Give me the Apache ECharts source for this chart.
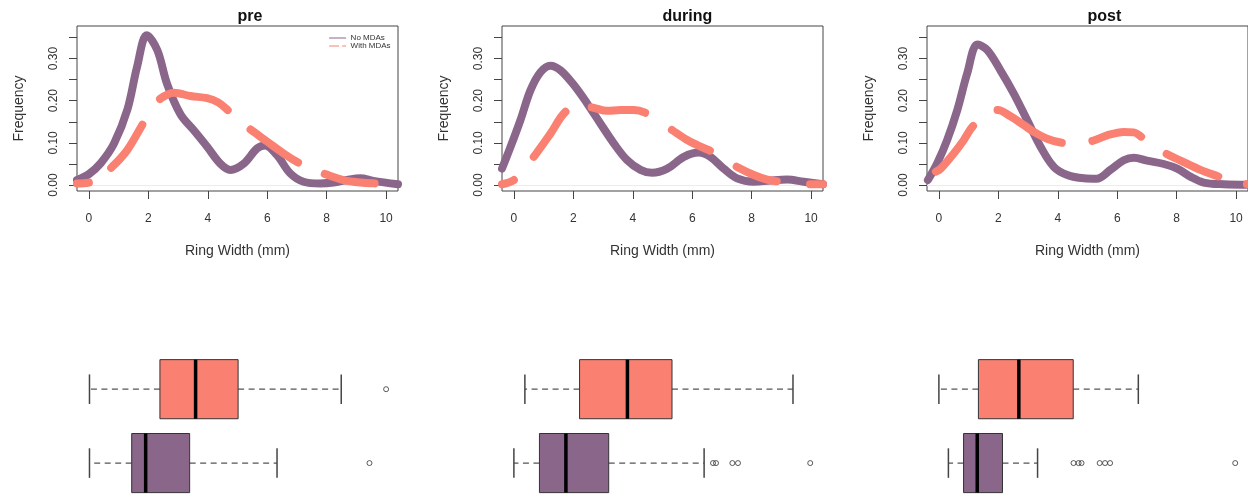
<!DOCTYPE html>
<html>
<head>
<meta charset="utf-8">
<script src="https://cdn.jsdelivr.net/npm/echarts@6/dist/echarts.min.js"></script>
<style>html,body{margin:0;padding:0;background:#fff}#c{width:1248px;height:500px}</style>
</head>
<body>
<div id="c"></div>
<script>
// ---- data ----
const periods = ['pre', 'during', 'post'];
const groups = ['No MDAs', 'With MDAs'];
const xTicks = [0, 2, 4, 6, 8, 10];
const yTicks = [0, 0.05, 0.1, 0.15, 0.2, 0.25, 0.3, 0.35];
const yLabels = [0, 0.1, 0.2, 0.3];

// density curves [ring width, frequency]
const preNo = [[-0.4,0.012],[0,0.026],[0.4,0.052],[0.85,0.099],[1.3,0.18],[1.62,0.28],[1.95,0.355],[2.3,0.32],[2.63,0.24],[3.08,0.168],[3.53,0.13],[3.98,0.091],[4.42,0.051],[4.76,0.036],[5.21,0.051],[5.66,0.087],[5.93,0.094],[6.33,0.071],[6.77,0.028],[7.22,0.008],[7.78,0.004],[8.23,0.006],[8.68,0.012],[9.13,0.016],[9.57,0.01],[10.4,0.002]];
const preWith = [[-0.4,0.004],[0,0.006],[0.4,0.022],[0.78,0.043],[1.29,0.083],[1.79,0.142],[2.1,0.18],[2.41,0.205],[2.86,0.219],[3.42,0.211],[3.98,0.206],[4.35,0.196],[4.65,0.179],[5.0,0.155],[5.43,0.132],[6.0,0.103],[6.55,0.075],[7.05,0.053],[7.5,0.038],[7.95,0.026],[8.57,0.012],[9.13,0.006],[9.63,0.004],[10.4,0.003]];
const duringNo = [[-0.4,0.039],[-0.11,0.091],[0.22,0.154],[0.56,0.225],[0.9,0.268],[1.23,0.283],[1.57,0.272],[2.02,0.237],[2.47,0.193],[2.91,0.146],[3.36,0.099],[3.81,0.059],[4.26,0.036],[4.65,0.029],[5.16,0.039],[5.72,0.067],[6.22,0.077],[6.61,0.067],[7.06,0.039],[7.51,0.016],[8.07,0.008],[8.63,0.011],[9.19,0.013],[9.75,0.008],[10.4,0.002]];
const duringWith = [[-0.4,0.002],[0,0.012],[0.3,0.035],[0.67,0.067],[1.23,0.122],[1.74,0.174],[2.2,0.186],[2.63,0.184],[3.14,0.176],[3.59,0.178],[4.04,0.178],[4.43,0.171],[4.9,0.15],[5.33,0.13],[5.83,0.107],[6.28,0.091],[6.61,0.081],[7.05,0.062],[7.51,0.043],[8.07,0.024],[8.52,0.013],[8.86,0.009],[9.4,0.004],[9.98,0.002],[10.4,0.002]];
const postNo = [[-0.37,0.012],[-0.06,0.051],[0.28,0.107],[0.62,0.178],[0.95,0.264],[1.3,0.333],[1.63,0.32],[2.07,0.272],[2.52,0.217],[2.97,0.154],[3.42,0.091],[3.87,0.043],[4.32,0.024],[4.88,0.016],[5.3,0.015],[5.77,0.036],[6.22,0.059],[6.56,0.065],[7.0,0.058],[7.57,0.05],[8.02,0.039],[8.46,0.02],[8.91,0.006],[9.59,0.002],[10.4,0.001]];
const postWith = [[-0.1,0.032],[0.06,0.039],[0.5,0.075],[0.84,0.107],[1.15,0.14],[1.6,0.165],[1.98,0.178],[2.41,0.163],[2.86,0.142],[3.2,0.126],[3.64,0.11],[4.15,0.1],[4.7,0.098],[5.18,0.105],[5.66,0.118],[6.22,0.126],[6.56,0.125],[6.82,0.114],[7.25,0.092],[7.68,0.073],[8.13,0.058],[8.8,0.036],[9.42,0.02],[9.9,0.008],[10.4,0.002]];

// box stats [low whisker, Q1, median, Q3, high whisker]
const preNoBox = [0.02, 1.44, 1.91, 3.39, 6.33];
const preWithBox = [0.02, 2.39, 3.59, 5.02, 8.49];
const duringNoBox = [0, 0.86, 1.75, 3.19, 6.40];
const duringWithBox = [0.37, 2.21, 3.82, 5.32, 9.39];
const postNoBox = [0.32, 0.83, 1.29, 2.14, 3.32];
const postWithBox = [0, 1.33, 2.69, 4.52, 6.71];
// outliers
const preNoOut = [9.44];
const preWithOut = [10.0];
const duringNoOut = [6.70, 6.80, 7.35, 7.54, 9.97];
const duringWithOut = [];
const postNoOut = [4.53, 4.70, 4.80, 5.41, 5.59, 5.76, 9.97];
const postWithOut = [];

// ---- styling ----
const FONT = '"Liberation Sans", Arial, Helvetica, sans-serif';
const PURPLE = '#8B668B', SALMON = '#FA8072';
const lefts = [77, 502, 927];
const W = 321;
// dashed-line on/off switch points (ring width) of the "With MDAs" curves (line style)
const preDashBreaks = [0, 0.75, 1.8, 2.4, 4.68, 5.45, 7.05, 7.95, 9.63];
const duringDashBreaks = [0, 0.67, 1.74, 2.63, 4.43, 5.33, 6.61, 7.51, 8.86, 9.98];
const postDashBreaks = [1.15, 1.98, 4.15, 5.18, 6.82, 7.68, 9.42, 10.38];
const dashBreaks = [preDashBreaks, duringDashBreaks, postDashBreaks];

const dens = [[preNo, preWith], [duringNo, duringWith], [postNo, postWith]];
const boxes = [[preNoBox, preWithBox], [duringNoBox, duringWithBox], [postNoBox, postWithBox]];
const outs = [[preNoOut, preWithOut], [duringNoOut, duringWithOut], [postNoOut, postWithOut]];

const grid = [], xAxis = [], yAxis = [], series = [], graphic = [];

function boxRender(params, api) {
  const cat = api.value(0);
  const lo = api.coord([api.value(1), cat]);
  const q1 = api.coord([api.value(2), cat]);
  const md = api.coord([api.value(3), cat]);
  const q3 = api.coord([api.value(4), cat]);
  const hi = api.coord([api.value(5), cat]);
  const band = api.size([0, 1])[1];
  const h = band * 0.8;
  const y = md[1];
  const color = api.visual('color');
  const wh = {stroke: '#555', lineWidth: 1.3, lineDash: [6, 4.5]};
  const cap = {stroke: '#444', lineWidth: 1.5};
  return {type: 'group', children: [
    {type: 'line', shape: {x1: q1[0], y1: y, x2: lo[0], y2: y}, style: wh},
    {type: 'line', shape: {x1: q3[0], y1: y, x2: hi[0], y2: y}, style: wh},
    {type: 'line', shape: {x1: lo[0], y1: y - h / 4, x2: lo[0], y2: y + h / 4}, style: cap},
    {type: 'line', shape: {x1: hi[0], y1: y - h / 4, x2: hi[0], y2: y + h / 4}, style: cap},
    {type: 'rect', shape: {x: q1[0], y: y - h / 2, width: q3[0] - q1[0], height: h}, style: {fill: color, stroke: '#333', lineWidth: 1}},
    {type: 'line', shape: {x1: md[0], y1: y - h / 2, x2: md[0], y2: y + h / 2}, style: {stroke: '#000', lineWidth: 3.5}}
  ]};
}

periods.forEach((p, i) => {
  const L = lefts[i];
  grid.push({left: L, top: 26, width: W, height: 165, show: true, borderColor: '#444', borderWidth: 1, backgroundColor: 'transparent'});
  xAxis.push({type: 'value', gridIndex: 2 * i, min: -0.4, max: 10.4,
    name: 'Ring Width (mm)', nameLocation: 'middle', nameGap: 53,
    nameTextStyle: {fontFamily: FONT, fontSize: 14, color: '#333'},
    axisLine: {show: false, onZero: false}, splitLine: {show: false},
    axisTick: {show: true, inside: false, length: 8, customValues: xTicks, lineStyle: {color: '#444'}},
    axisLabel: {customValues: xTicks, margin: 22, fontFamily: FONT, fontSize: 12, color: '#333'}});
  yAxis.push({type: 'value', gridIndex: 2 * i, min: -0.014, max: 0.377,
    name: 'Frequency', nameLocation: 'middle', nameGap: 51, nameRotate: 90,
    nameTextStyle: {fontFamily: FONT, fontSize: 14, color: '#333'},
    axisLine: {show: false, onZero: false}, splitLine: {show: false},
    axisTick: {show: true, inside: false, length: 8, customValues: yTicks, lineStyle: {color: '#444'}},
    axisLabel: {customValues: yLabels, rotate: 90, margin: 17, fontFamily: FONT, fontSize: 12, color: '#333',
      formatter: v => v.toFixed(2)}});
  grid.push({left: L, top: 352.25, width: W, height: 153});
  xAxis.push({type: 'value', gridIndex: 2 * i + 1, min: -0.4, max: 10.4, show: false});
  yAxis.push({type: 'category', gridIndex: 2 * i + 1, data: groups, show: false});

  const [dNo, dWith] = dens[i];
  series.push({id: 'no-' + i, name: groups[0], type: 'line', xAxisIndex: 2 * i, yAxisIndex: 2 * i, data: dNo, smooth: 0.35,
    symbol: 'none', color: PURPLE, lineStyle: {width: 8, color: PURPLE, cap: 'round', join: 'round'}, z: 2,
    markLine: {silent: true, symbol: 'none', label: {show: false}, data: [{yAxis: 0}],
      lineStyle: {color: '#ececec', width: 1, type: 'solid'}, z: 1}});
  series.push({id: 'with-' + i, name: groups[1], type: 'line', xAxisIndex: 2 * i, yAxisIndex: 2 * i, data: dWith, smooth: 0.35,
    symbol: 'none', color: SALMON,
    lineStyle: {width: 8, color: SALMON, type: [54, 30], cap: 'round', join: 'round'}, z: 3});

  [0, 1].forEach(g => {
    series.push({name: 'box-' + p + '-' + g, type: 'custom', xAxisIndex: 2 * i + 1, yAxisIndex: 2 * i + 1,
      renderItem: boxRender, itemStyle: {color: g === 0 ? PURPLE : SALMON},
      encode: {x: [1, 2, 3, 4, 5], y: 0},
      data: [[g].concat(boxes[i][g])]});
    if (outs[i][g].length) {
      series.push({name: 'out-' + p + '-' + g, type: 'scatter', xAxisIndex: 2 * i + 1, yAxisIndex: 2 * i + 1,
        symbol: 'circle', symbolSize: 5,
        itemStyle: {color: 'rgba(0,0,0,0)', borderColor: '#333', borderWidth: 1},
        data: outs[i][g].map(v => [v, g])});
    }
  });

  graphic.push({type: 'text', left: L + W / 2, top: 9, style: {text: p, font: 'bold 16px ' + FONT, fill: '#111', textAlign: 'center'}});
});

const chart = echarts.init(document.getElementById('c'), null, {renderer: 'canvas'});
chart.setOption({
  animation: false,
  backgroundColor: '#fff',
  grid, xAxis, yAxis, series,
  legend: {left: 329, top: 34, padding: 0, orient: 'vertical', itemGap: 0, itemWidth: 16, itemHeight: 8,
    itemStyle: {opacity: 0},
    textStyle: {fontFamily: FONT, fontSize: 8, color: '#333'},
    data: [
      {name: 'No MDAs', lineStyle: {width: 1.2, type: 'solid'}},
      {name: 'With MDAs', lineStyle: {width: 1.2, type: [9, 4]}}
    ]},
  graphic
});

// turn the dash switch points into a dash pattern measured along the drawn curve
const dashUpdates = periods.map((p, i) => {
  const pts = dens[i][1];
  const finder = {xAxisIndex: 2 * i, yAxisIndex: 2 * i};
  const pix = pts.map(d => chart.convertToPixel(finder, d));
  const cum = [0];
  for (let k = 1; k < pix.length; k++) {
    cum.push(cum[k - 1] + Math.hypot(pix[k][0] - pix[k - 1][0], pix[k][1] - pix[k - 1][1]));
  }
  const sAt = x => {
    for (let k = 1; k < pts.length; k++) {
      if (x <= pts[k][0]) {
        const t = (x - pts[k - 1][0]) / (pts[k][0] - pts[k - 1][0]);
        return cum[k - 1] + t * (cum[k] - cum[k - 1]);
      }
    }
    return cum[cum.length - 1];
  };
  const bounds = dashBreaks[i].map(sAt);
  const pattern = [];
  let prev = 0;
  bounds.forEach(b => { pattern.push(Math.max(b - prev, 0.01)); prev = b; });
  pattern.push(3000);
  if (pattern.length % 2) pattern.push(0.01);
  return {id: 'with-' + i, lineStyle: {type: pattern}};
});
chart.setOption({series: dashUpdates});
</script>
</body>
</html>
